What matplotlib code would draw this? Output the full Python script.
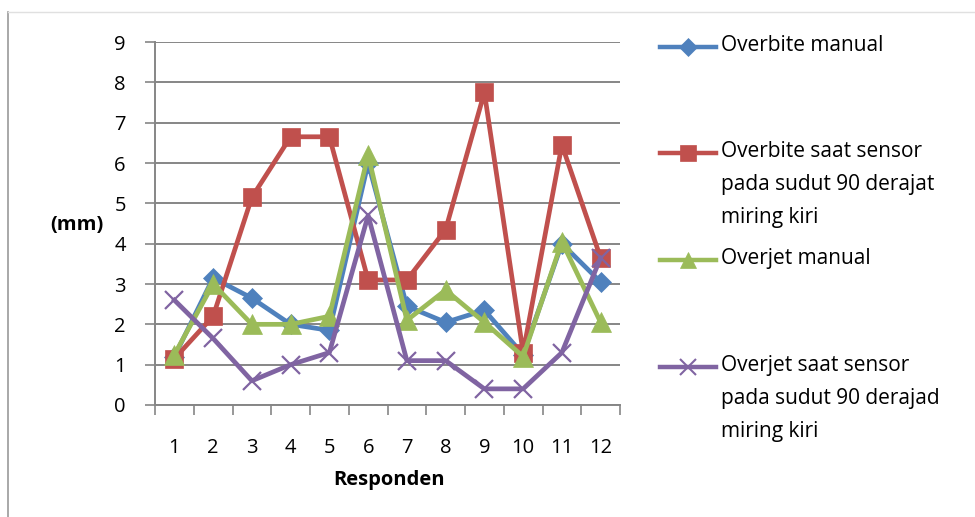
import matplotlib.pyplot as plt
from matplotlib.lines import Line2D
import numpy as np

plt.rcParams['font.family'] = ['Open Sans', 'DejaVu Sans']

responden = [1, 2, 3, 4, 5, 6, 7, 8, 9, 10, 11, 12]
overbite_manual = [1.2, 3.15, 2.65, 2.0, 1.85, 6.0, 2.45, 2.05, 2.35, 1.25, 4.0, 3.05]
overbite_sensor = [1.15, 2.2, 5.15, 6.65, 6.65, 3.1, 3.1, 4.35, 7.75, 1.3, 6.45, 3.65]
overjet_manual = [1.25, 3.0, 2.0, 2.0, 2.2, 6.2, 2.1, 2.85, 2.05, 1.2, 4.05, 2.05]
overjet_sensor = [2.6, 1.65, 0.6, 1.0, 1.3, 4.7, 1.1, 1.1, 0.4, 0.4, 1.3, 3.65]

labels = ["Overbite manual",
          "Overbite saat sensor\npada sudut 90 derajat\nmiring kiri",
          "Overjet manual",
          "Overjet saat sensor\npada sudut 90 derajad\nmiring kiri"]
colors = ["#4F81BD", "#C0504D", "#9BBB59", "#8064A2"]
markers = ["D", "s", "^", "x"]
msizes = [10, 13, 14, 13]
leg_sizes = [9, 11, 11, 11]

fig = plt.figure(figsize=(9.75, 5.17), dpi=100)
ax = fig.add_axes([155 / 975, 1 - 405 / 517, 465 / 975, 363 / 517])

x = np.array(responden)
series = [overbite_manual, overbite_sensor, overjet_manual, overjet_sensor]
for s, c, m, ms in zip(series, colors, markers, msizes):
    ax.plot(x, s, color=c, lw=3.4, marker=m, markersize=ms,
            markeredgewidth=1.6 if m == "x" else 0.5, markeredgecolor=c,
            zorder=3)

ax.set_xlim(0.5, 12.5)
ax.set_ylim(0, 9)
ax.set_yticks(range(0, 10))
ax.set_xticks(x)
ax.set_xticks(np.arange(0.5, 13, 1), minor=True)
ax.tick_params(axis="x", which="major", length=0, pad=24, labelsize=14.5)
ax.tick_params(axis="x", which="minor", length=7, width=1.2, color="#868686")
ax.tick_params(axis="y", length=7, width=1.2, color="#868686", pad=14, labelsize=14.5)
ax.grid(axis="y", color="#868686", lw=1.4, zorder=0)
for sp in ["top", "right"]:
    ax.spines[sp].set_visible(False)
for sp in ["left", "bottom"]:
    ax.spines[sp].set_color("#868686")
    ax.spines[sp].set_linewidth(1.4)

fig.text(77 / 975, 1 - 225 / 517, "(mm)", fontsize=14.5, fontweight="bold",
         ha="center", va="center")
fig.text(389 / 975, 1 - 480 / 517, "Responden", fontsize=14.5, fontweight="bold",
         ha="center", va="center")

# legend drawn by hand (Excel style spacing)
ys = [47, 153, 260, 367]
for lab, c, m, ms, yy in zip(labels, colors, markers, leg_sizes, ys):
    yf = 1 - yy / 517
    fig.add_artist(Line2D([660 / 975, 716 / 975], [yf, yf], color=c, lw=3.2,
                          transform=fig.transFigure))
    fig.add_artist(Line2D([688 / 975], [yf], color=c, marker=m, markersize=ms,
                          markeredgewidth=1.5 if m == "x" else 0.5,
                          markeredgecolor=c, transform=fig.transFigure))
    fig.text(721 / 975, yf + 12 / 517, lab, fontsize=15, ha="left", va="top",
             linespacing=1.75)

# chart border (top and left visible)
fig.add_artist(Line2D([8 / 975, 8 / 975], [0, 1 - 12 / 517], color="#999999",
                      lw=1.2, transform=fig.transFigure))
fig.add_artist(Line2D([8 / 975, 1], [1 - 12 / 517, 1 - 12 / 517], color="#e0e0e0",
                      lw=1.0, transform=fig.transFigure))

fig.savefig("out.png", dpi=100)
